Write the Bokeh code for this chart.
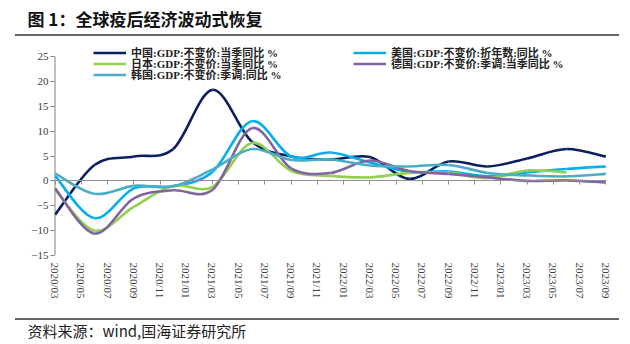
import numpy as np
from bokeh.plotting import figure
from bokeh.layouts import column, row
from bokeh.models import (Range1d, LinearAxis, FixedTicker, Legend, LegendItem, Div, Label)
from bokeh.embed import file_html
from bokeh.resources import INLINE

# ---------------- data ----------------
quarters = ["2020/03", "2020/06", "2020/09", "2020/12", "2021/03", "2021/06",
            "2021/09", "2021/12", "2022/03", "2022/06", "2022/09", "2022/12",
            "2023/03", "2023/06", "2023/09"]
tick_labels = ["2020/03", "2020/05", "2020/07", "2020/09", "2020/11", "2021/01",
               "2021/03", "2021/05", "2021/07", "2021/09", "2021/11", "2022/01",
               "2022/03", "2022/05", "2022/07", "2022/09", "2022/11", "2023/01",
               "2023/03", "2023/05", "2023/07", "2023/09"]
y_ticks = [-15, -10, -5, 0, 5, 10, 15, 20, 25]

china = [-6.8, 3.2, 4.9, 6.4, 18.3, 7.9, 4.9, 4.3, 4.8, 0.4, 3.9, 2.9, 4.5, 6.4, 4.9]
usa = [1.0, -7.5, -1.5, -1.1, 1.8, 12.0, 4.9, 5.7, 3.7, 1.8, 1.9, 0.9, 1.7, 2.4, 2.9]
japan = [-1.8, -10.0, -5.2, -1.0, -1.2, 7.6, 2.0, 1.0, 0.7, 1.6, 1.6, 0.6, 2.1, 1.7]
germany = [-1.5, -10.6, -3.5, -1.9, -1.8, 10.6, 2.5, 1.6, 4.1, 2.0, 1.4, 0.7, 0.0, 0.1, -0.3]
korea = [1.5, -2.6, -1.0, -1.1, 2.3, 6.4, 4.2, 4.3, 3.1, 2.9, 3.2, 1.6, 1.1, 0.9, 1.4]

names = ["中国:GDP:不变价:当季同比 %", "美国:GDP:不变价:折年数:同比 %",
         "日本:GDP:不变价:当季同比 %", "德国:GDP:不变价:季调:当季同比 %",
         "韩国:GDP:不变价:季调:同比 %"]
colors = ["#0B1F5E", "#00B0F0", "#92D050", "#8064A2", "#4BACC6"]

title_text = "图 1：全球疫后经济波动式恢复"
source_text = "资料来源：wind,国海证券研究所"


def month_index(label):
    y, m = label.split("/")
    return (int(y) - 2020) * 12 + int(m) - 3


def smooth_segments(xs, ys):
    n = len(xs)
    out = dict(x0=[], y0=[], x1=[], y1=[], cx0=[], cy0=[], cx1=[], cy1=[])
    for i in range(n - 1):
        a = i - 1 if i > 0 else i
        d = i + 2 if i + 2 < n else i + 1
        out["x0"].append(xs[i]); out["y0"].append(ys[i])
        out["x1"].append(xs[i + 1]); out["y1"].append(ys[i + 1])
        out["cx0"].append(xs[i] + (xs[i + 1] - xs[a]) / 6.0)
        out["cy0"].append(ys[i] + (ys[i + 1] - ys[a]) / 6.0)
        out["cx1"].append(xs[i + 1] - (xs[d] - xs[i]) / 6.0)
        out["cy1"].append(ys[i + 1] - (ys[d] - ys[i]) / 6.0)
    return out


SERIF = "Liberation Serif, Noto Sans CJK SC"
CJK = "Noto Sans CJK SC"
RULE = "#666666"


def rule():
    return Div(text="", width=604, height=2, margin=(0, 11, 0, 15),
               styles={"background-color": RULE, "overflow": "hidden"})


def text_strip(text, height, size, bold, y_from_bottom):
    f = figure(width=630, height=height, output_backend="svg", toolbar_location=None,
               x_axis_location=None, y_axis_location=None,
               x_range=Range1d(0, 1), y_range=Range1d(0, 1),
               min_border_left=0, min_border_right=0, min_border_top=0,
               min_border_bottom=0)
    f.outline_line_color = None
    f.background_fill_color = "white"
    f.border_fill_color = "white"
    f.grid.visible = False
    f.add_layout(Label(x=27, y=y_from_bottom, x_units="screen", y_units="screen",
                       text=text, text_font=CJK, text_font_size=size,
                       text_font_style="bold" if bold else "normal",
                       text_color="#111111" if bold else "#222222",
                       text_baseline="middle", text_align="left"))
    return f


f1 = text_strip(title_text, 34, "17px", True, 16)

# ---------------- main chart ----------------
x_start, x_end = -0.05, 42.05
p = figure(width=630, height=282, output_backend="svg", toolbar_location=None,
           x_range=Range1d(x_start, x_end), y_range=Range1d(-15, 28.62),
           min_border_left=54, min_border_right=24, min_border_top=2,
           min_border_bottom=63)
p.outline_line_color = None
p.grid.visible = False
p.background_fill_color = "white"
p.border_fill_color = "white"

ya = p.yaxis[0]
ya.ticker = FixedTicker(ticks=y_ticks)
ya.axis_line_color = None
ya.major_tick_line_color = "#808080"
ya.major_tick_out = 4
ya.major_tick_in = 0
ya.minor_tick_line_color = None
ya.major_label_standoff = 2
ya.major_label_text_font = SERIF
ya.major_label_text_font_size = "11px"
ya.major_label_text_color = "#404040"
# y axis line only between the lowest and highest tick
p.segment(x0=[x_start], y0=[min(y_ticks)], x1=[x_start], y1=[max(y_ticks)],
          line_color="#808080", line_width=2)

tick_pos = [month_index(t) for t in tick_labels]
xa = p.xaxis[0]
xa.ticker = FixedTicker(ticks=tick_pos)
xa.major_label_overrides = {tp: lab for tp, lab in zip(tick_pos, tick_labels)}
xa.major_label_orientation = "vertical"
xa.axis_line_color = None
xa.major_tick_line_color = None
xa.major_tick_out = 0
xa.major_tick_in = 0
xa.minor_tick_line_color = None
xa.major_label_standoff = 7
xa.major_label_text_font = SERIF
xa.major_label_text_font_size = "11px"
xa.major_label_text_color = "#404040"

za = LinearAxis(fixed_location=0, ticker=FixedTicker(ticks=tick_pos))
za.axis_line_color = "#909090"
za.major_tick_line_color = "#909090"
za.major_tick_out = 4
za.major_tick_in = 0
za.minor_tick_line_color = None
za.major_label_text_font_size = "0px"
za.major_label_text_color = None
za.major_label_standoff = 0
p.add_layout(za, "below")

series = [china, usa, japan, germany, korea]
renderers = []
for vals, col in zip(series, colors):
    xs = [month_index(q) for q in quarters[:len(vals)]]
    seg = smooth_segments(xs, vals)
    r = p.bezier(line_color=col, line_width=2.6, **seg)
    renderers.append(r)

common = dict(border_line_color=None, background_fill_alpha=0, padding=0, margin=0,
              spacing=0, glyph_width=33, glyph_height=11, label_height=11,
              label_standoff=5, label_text_font=SERIF, label_text_font_size="11px",
              label_text_font_style="bold", label_text_color="#222222")
# one legend per row: (series index, x offset from frame left, y of legend bottom above frame bottom)
legend_slots = [(0, 39, 195), (2, 39, 184), (4, 39, 173), (1, 299, 195), (3, 299, 184)]
for idx, lx, ly in legend_slots:
    lg = Legend(items=[LegendItem(label=names[idx], renderers=[renderers[idx]])],
                location=(lx, ly), **common)
    p.add_layout(lg, "center")

f3 = text_strip(source_text, 24, "15px", False, 14)

layout = column(row(f1, spacing=0), rule(), p, rule(), row(f3, spacing=0), spacing=0)
open("out.html", "w").write(file_html(layout, INLINE))
